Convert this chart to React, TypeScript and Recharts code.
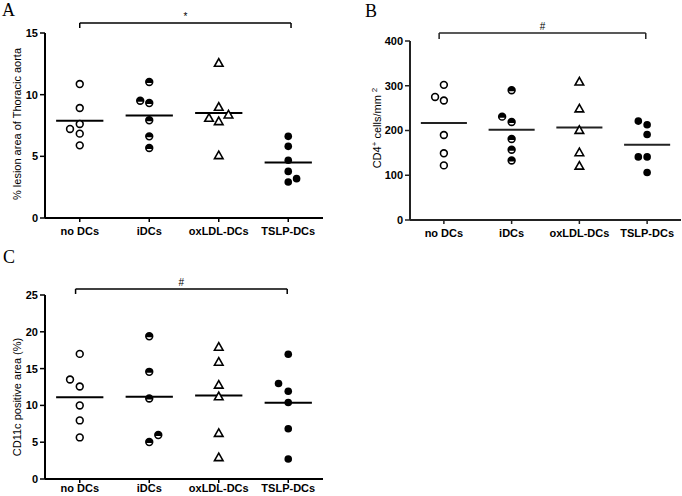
import React from 'react';
import { ScatterChart, Scatter, XAxis, YAxis, ReferenceLine, Label } from 'recharts';

const categories = ['no DCs', 'iDCs', 'oxLDL-DCs', 'TSLP-DCs'];

// Panel A: % lesion area of thoracic aorta
const lesionNoDCs = [10.86, 8.92, 7.62, 7.22, 6.84, 5.89];
const lesionNoDCsJitter = [0, 0, 0, -0.14, 0, 0];
const lesionIDCs = [11.03, 9.51, 9.32, 7.92, 6.62, 5.68];
const lesionIDCsJitter = [0, -0.13, 0, 0, 0, 0];
const lesionOxLDL = [12.57, 9.0, 8.38, 8.11, 7.84, 5.08];
const lesionOxLDLJitter = [0, 0, 0.14, -0.14, 0, 0];
const lesionTSLP = [6.62, 5.81, 4.68, 3.78, 2.92, 3.19];
const lesionTSLPJitter = [0, 0, 0, 0, 0, 0.12];
const lesionMeans = [7.89, 8.32, 8.51, 4.49];
const lesionTicks = [0, 5, 10, 15];

// Panel B: CD4+ cells/mm2
const cd4NoDCs = [302, 275, 267, 190, 149, 122];
const cd4NoDCsJitter = [0, -0.13, 0, 0, 0, 0];
const cd4IDCs = [290, 231, 219, 181, 157, 133];
const cd4IDCsJitter = [0, -0.14, 0, 0, 0, 0];
const cd4OxLDL = [309, 249, 201, 151, 121];
const cd4OxLDLJitter = [0, 0, 0, 0, 0];
const cd4TSLP = [221, 213, 191, 141, 141, 106];
const cd4TSLPJitter = [-0.13, 0, 0, -0.13, 0, 0];
const cd4Means = [217, 201.5, 206.7, 168];
const cd4Ticks = [0, 100, 200, 300, 400];

// Panel C: CD11c positive area (%)
const cd11NoDCs = [17.0, 13.52, 12.57, 9.99, 7.96, 5.65];
const cd11NoDCsJitter = [0, -0.14, 0, 0, 0, 0];
const cd11IDCs = [19.39, 14.56, 10.94, 5.97, 5.02];
const cd11IDCsJitter = [0, 0, 0, 0.13, 0];
const cd11OxLDL = [17.95, 15.91, 12.79, 11.21, 6.24, 2.94];
const cd11OxLDLJitter = [0, 0, 0, 0, 0, 0];
const cd11TSLP = [16.95, 12.97, 11.93, 10.4, 6.83, 2.71];
const cd11TSLPJitter = [0, -0.14, 0, 0, 0, 0];
const cd11Means = [11.12, 11.17, 11.35, 10.35];
const cd11Ticks = [0, 5, 10, 15, 20, 25];

const toPoints = (group: number, values: number[], jitter: number[]) =>
  values.map((y, i) => ({ x: group + (jitter[i] || 0), y }));

const SW = 1.6;

const OpenCircle = (p: any) => (
  <circle cx={p.cx} cy={p.cy} r={3.4} fill="#fff" stroke="#000" strokeWidth={SW} />
);
const HalfCircle = (p: any) => {
  const r = 3.4;
  const h = 1.0;
  const dx = Math.sqrt(r * r - h * h);
  return (
    <g>
      <circle cx={p.cx} cy={p.cy} r={r} fill="#fff" stroke="#000" strokeWidth={SW} />
      <path
        d={`M ${p.cx - dx} ${p.cy + h} A ${r} ${r} 0 1 1 ${p.cx + dx} ${p.cy + h} Z`}
        fill="#000"
      />
    </g>
  );
};
const Triangle = (p: any) => (
  <polygon
    points={`${p.cx},${p.cy - 4.3} ${p.cx - 4.3},${p.cy + 3.3} ${p.cx + 4.3},${p.cy + 3.3}`}
    fill="#fff"
    stroke="#000"
    strokeWidth={SW}
    strokeLinejoin="miter"
  />
);
const FilledCircle = (p: any) => <circle cx={p.cx} cy={p.cy} r={3.8} fill="#000" />;

const shapes = [OpenCircle, HalfCircle, Triangle, FilledCircle];

type PanelProps = {
  left: number;
  top: number;
  width: number;
  height: number;
  margin: { top: number; right: number; left: number; bottom: number };
  yWidth: number;
  xHeight: number;
  xTickMargin: number;
  domain: [number, number];
  ticks: number[];
  groups: { values: number[]; jitter: number[] }[];
  means: number[];
  bracket: { x1: number; x2: number; y: number; yEnd: number; mark: string; markSize: number };
  yLabel: (props: any) => React.ReactElement;
  lineColor: string;
};

const tickStyle = { fill: '#000', fontSize: 11, fontWeight: 700, fontFamily: 'Liberation Sans, Arial, sans-serif' };

function Panel(props: PanelProps) {
  const { left, top, width, height, margin, yWidth, xHeight, xTickMargin, domain, ticks, groups, means, bracket, yLabel, lineColor } = props;
  return (
    <div style={{ position: 'absolute', left, top, width, height }}>
      <ScatterChart width={width} height={height} margin={margin}>
        <XAxis
          type="number"
          dataKey="x"
          domain={[0.5, 4.5]}
          ticks={[1, 2, 3, 4]}
          tickFormatter={(v: number) => categories[Math.round(v) - 1] || ''}
          height={xHeight}
          axisLine={{ stroke: lineColor, strokeWidth: 2 }}
          tickLine={{ stroke: lineColor, strokeWidth: 1.5 }}
          tickSize={4}
          tickMargin={xTickMargin}
          tick={tickStyle}
          interval={0}
          allowDataOverflow
        />
        <YAxis
          type="number"
          dataKey="y"
          domain={domain}
          ticks={ticks}
          width={yWidth}
          axisLine={{ stroke: lineColor, strokeWidth: 2 }}
          tickLine={{ stroke: lineColor, strokeWidth: 1.5 }}
          tickSize={5}
          tickMargin={2}
          tick={tickStyle}
          interval={0}
          allowDataOverflow
        >
          <Label content={yLabel} />
        </YAxis>
        {groups.map((g, gi) => (
          <Scatter
            key={gi}
            data={toPoints(gi + 1, g.values, g.jitter)}
            shape={shapes[gi]}
            isAnimationActive={false}
          />
        ))}
        {means.map((m, i) => (
          <ReferenceLine
            key={'m' + i}
            segment={[
              { x: i + 1 - 0.34, y: m },
              { x: i + 1 + 0.34, y: m },
            ]}
            stroke={lineColor}
            strokeWidth={2}
            ifOverflow="visible"
          />
        ))}
        <ReferenceLine
          segment={[
            { x: bracket.x1, y: bracket.y },
            { x: bracket.x2, y: bracket.y },
          ]}
          stroke={lineColor}
          strokeWidth={1.5}
          ifOverflow="visible"
          label={{
            value: bracket.mark,
            position: 'top',
            offset: 3,
            fill: '#000',
            fontSize: bracket.markSize,
            fontFamily: 'Liberation Sans, Arial, sans-serif',
          }}
        />
        <ReferenceLine
          segment={[
            { x: bracket.x1, y: bracket.y },
            { x: bracket.x1, y: bracket.yEnd },
          ]}
          stroke={lineColor}
          strokeWidth={1.5}
          ifOverflow="visible"
        />
        <ReferenceLine
          segment={[
            { x: bracket.x2, y: bracket.y },
            { x: bracket.x2, y: bracket.yEnd },
          ]}
          stroke={lineColor}
          strokeWidth={1.5}
          ifOverflow="visible"
        />
      </ScatterChart>
    </div>
  );
}

const labelFont = { fontFamily: 'Liberation Sans, Arial, sans-serif', fontSize: 11, fill: '#000' };

const makeYLabel = (content: React.ReactNode, dx: number, dy: number) => (p: any) => {
  const vb = p.viewBox || { x: 0, y: 0, width: 0, height: 0 };
  const cx = vb.x + dx;
  const cy = vb.y + vb.height / 2 + dy;
  return (
    <text x={cx} y={cy} transform={`rotate(-90 ${cx} ${cy})`} textAnchor="middle" {...labelFont}>
      {content}
    </text>
  );
};

const labelA = makeYLabel('% lesion area of Thoracic aorta', 21, -1.5);
const labelB = makeYLabel(
  [
    <tspan key="a">CD4</tspan>,
    <tspan key="b" dy={-4} fontSize={8}>+</tspan>,
    <tspan key="c" dy={4}> cells/mm </tspan>,
    <tspan key="d" dy={-4} fontSize={8}>2</tspan>,
  ],
  41,
  -2.5
);
const labelC = makeYLabel('CD11c positive area (%)', 21, 10);

const letterStyle: React.CSSProperties = {
  position: 'absolute',
  fontFamily: 'Liberation Serif, Times New Roman, serif',
  fontSize: 18,
  lineHeight: '18px',
  color: '#000',
};

export default function App() {
  return (
    <div style={{ position: 'absolute', left: 0, top: 0, width: 682, height: 496, background: '#fff', overflow: 'hidden' }}>
      <Panel
        left={0}
        top={0}
        width={340}
        height={240}
        margin={{ top: 33, right: 17, left: 0, bottom: 0 }}
        yWidth={45}
        xHeight={22}
        xTickMargin={5}
        domain={[0, 15]}
        ticks={lesionTicks}
        groups={[
          { values: lesionNoDCs, jitter: lesionNoDCsJitter },
          { values: lesionIDCs, jitter: lesionIDCsJitter },
          { values: lesionOxLDL, jitter: lesionOxLDLJitter },
          { values: lesionTSLP, jitter: lesionTSLPJitter },
        ]}
        means={lesionMeans}
        bracket={{ x1: 1, x2: 4.04, y: 15.81, yEnd: 15.41, mark: '*', markSize: 10 }}
        yLabel={labelA}
        lineColor="#000"
      />
      <Panel
        left={340}
        top={0}
        width={342}
        height={240}
        margin={{ top: 41, right: 1, left: 0, bottom: 0 }}
        yWidth={70}
        xHeight={20}
        xTickMargin={5}
        domain={[0, 400]}
        ticks={cd4Ticks}
        groups={[
          { values: cd4NoDCs, jitter: cd4NoDCsJitter },
          { values: cd4IDCs, jitter: cd4IDCsJitter },
          { values: cd4OxLDL, jitter: cd4OxLDLJitter },
          { values: cd4TSLP, jitter: cd4TSLPJitter },
        ]}
        means={cd4Means}
        bracket={{ x1: 0.93, x2: 3.98, y: 418, yEnd: 404.5, mark: '#', markSize: 10 }}
        yLabel={labelB}
        lineColor="#222"
      />
      <Panel
        left={0}
        top={240}
        width={340}
        height={256}
        margin={{ top: 55, right: 17, left: 0, bottom: 0 }}
        yWidth={45}
        xHeight={17}
        xTickMargin={1}
        domain={[0, 25]}
        ticks={cd11Ticks}
        groups={[
          { values: cd11NoDCs, jitter: cd11NoDCsJitter },
          { values: cd11IDCs, jitter: cd11IDCsJitter },
          { values: cd11OxLDL, jitter: cd11OxLDLJitter },
          { values: cd11TSLP, jitter: cd11TSLPJitter },
        ]}
        means={cd11Means}
        bracket={{ x1: 0.94, x2: 3.985, y: 25.82, yEnd: 25.14, mark: '#', markSize: 10 }}
        yLabel={labelC}
        lineColor="#000"
      />
      <div style={{ ...letterStyle, left: 2, top: 1 }}>A</div>
      <div style={{ ...letterStyle, left: 365, top: 2 }}>B</div>
      <div style={{ ...letterStyle, left: 3, top: 248 }}>C</div>
    </div>
  );
}
